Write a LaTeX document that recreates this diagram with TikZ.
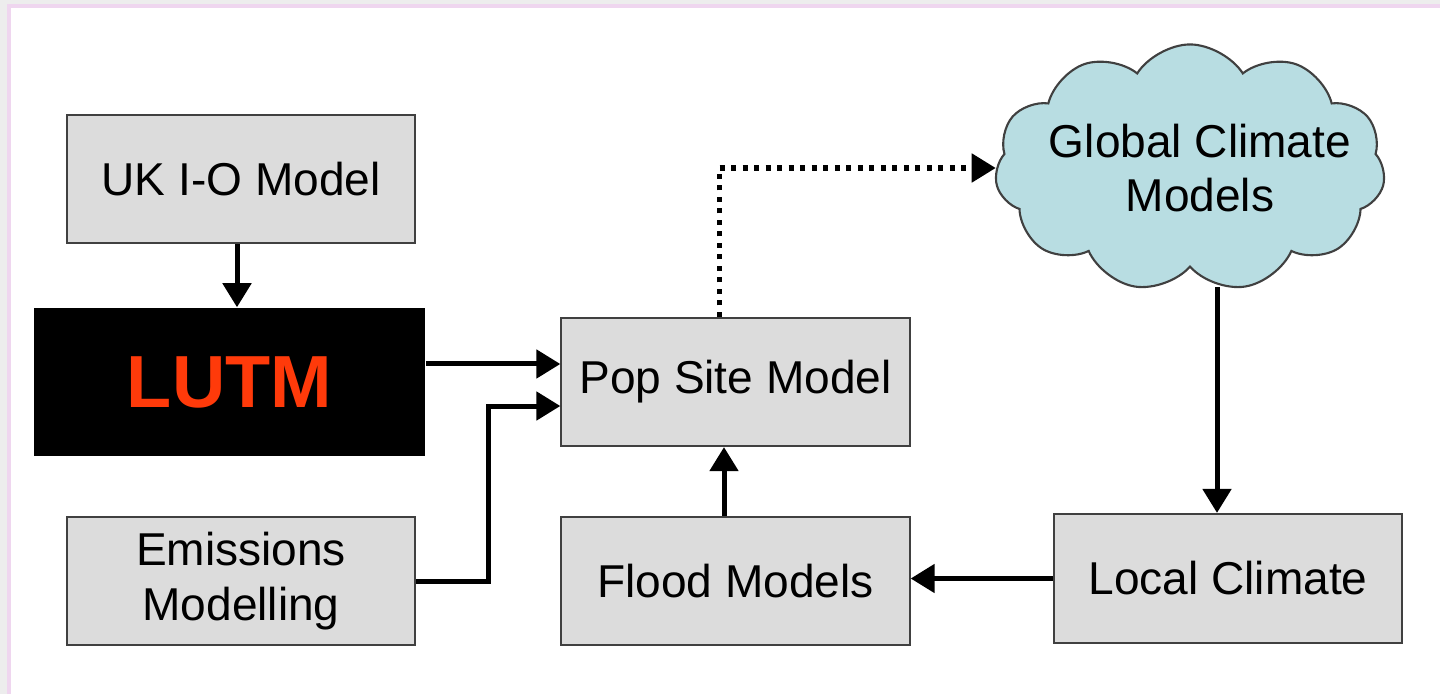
\documentclass[tikz,border=0pt]{standalone}
\usepackage{fontspec}
\setmainfont{Liberation Sans}
\usepackage{xcolor}
\usetikzlibrary{shapes,shapes.symbols,positioning,arrows.meta}
\definecolor{boxgray}{HTML}{DCDCDC}
\definecolor{cloudblue}{HTML}{B8DDE2}
\definecolor{lutmred}{HTML}{FF3A0A}
\definecolor{pagegray}{HTML}{EDEDED}
\definecolor{framepink}{HTML}{EFD6EF}
\tikzset{box/.style={rectangle,draw=black!75,fill=boxgray,line width=0.6pt,minimum width=3.48cm,minimum height=1.28cm,inner sep=0pt,align=center,font=\fontsize{13.1}{15.5}\selectfont},
arr/.style={-{Triangle[length=0.24cm,width=0.28cm]},line width=0.05cm},
dotarr/.style={-{Triangle[length=0.24cm,width=0.28cm]},line width=0.05cm,dash pattern=on 0.05cm off 0.065cm}}

\begin{document}
\begin{tikzpicture}[x=0.01cm,y=-0.01cm]
        \useasboundingbox (0,0) rectangle (1440,694);
        \fill[pagegray] (0,0) rectangle (1440,694);
        \fill[white] (9,6) rectangle (1440,694);
        \draw[framepink,line width=0.03cm] (9,694) -- (9,6) -- (1440,6);

		\node[box] (uk) at (241,179) {UK I-O Model};
        \node[rectangle,fill=black,minimum width=3.91cm,minimum height=1.48cm,text=lutmred,font=\fontsize{21}{24}\selectfont\bfseries] (lutm) at (229.5,382) {LUTM};
        \node[box] (emis) at (241,581) {Emissions\\Modelling};
        \node[box] (pop) at (735.5,382) {Pop Site Model};
        \node[box] (flood) at (735.5,581) {Flood Models};
        \node[box,minimum height=1.29cm] (local) at (1228,578.5) {Local Climate};
        \node[cloud,cloud puffs=11,cloud puff arc=115,aspect=1.6,draw=black!75,fill=cloudblue,line width=0.6pt,minimum width=3.9cm,minimum height=2.47cm,inner sep=0pt,
          label={[align=center,font=\fontsize{13.1}{15.5}\selectfont,xshift=0.1cm]center:Global Climate\\Models}] (gcm) at (1190,168) {};

        \coordinate (bend) at (488,406);

        \draw [arr] ([xshift=-0.04cm]uk.south) -- ([xshift=-0.04cm]uk.south |- lutm.north);
		\draw [arr] ([yshift=0.18cm]lutm.east) -- ([yshift=0.18cm]lutm.east -| pop.west);
		\draw [arr] (emis.east) -| (bend) -- (bend -| pop.west);
		\draw [arr] ([xshift=-0.115cm]flood.north) -- ([xshift=-0.115cm]pop.south);
		\draw [dotarr] ([xshift=-0.165cm]pop.north) |- (gcm.west);
		\draw [arr] ([xshift=-0.11cm,yshift=-0.19cm]local.north |- gcm.south) -- ([xshift=-0.11cm]local.north);
		\draw [arr] (local.west) -- (local.west -| flood.east);
    \end{tikzpicture}
\end{document}
